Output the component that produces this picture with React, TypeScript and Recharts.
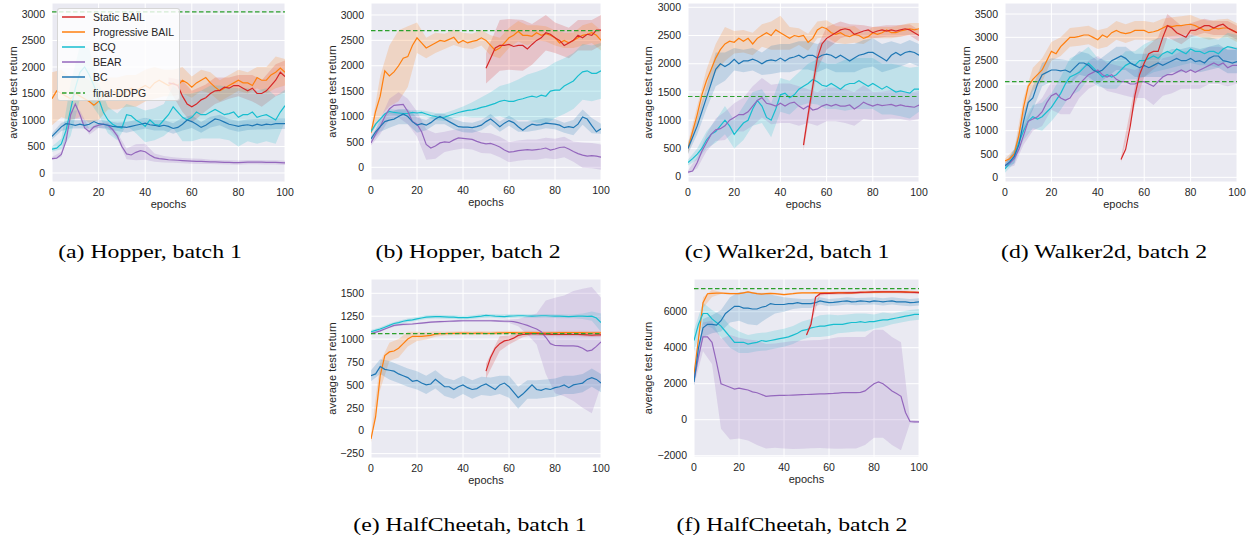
import React from "react";
import { ComposedChart, Area, Line, XAxis, YAxis, CartesianGrid, Legend, ReferenceLine } from "recharts";

// epochs 0..100, one reading every 2 epochs (Static BAIL starts at 50)
const EPOCHS = Array.from({ length: 51 }, (_, i) => i * 2);
const X_TICKS = [0, 20, 40, 60, 80, 100];
const TICKS_3000 = [0, 500, 1000, 1500, 2000, 2500, 3000];
const TICKS_3500 = [0, 500, 1000, 1500, 2000, 2500, 3000, 3500];
const TICKS_CHEETAH1 = [-250, 0, 250, 500, 750, 1000, 1250, 1500];
const TICKS_CHEETAH2 = [-2000, 0, 2000, 4000, 6000];

const DDPG_HOPPER1 = 3040;
const DDPG_HOPPER2 = 2690;
const DDPG_WALKER1 = 1420;
const DDPG_WALKER2 = 2050;
const DDPG_CHEETAH1 = 1060;
const DDPG_CHEETAH2 = 7280;

// band arrays = half width of the shaded region (every 4 epochs, Static BAIL every ~5)

// (a) Hopper, batch 1
const hopper1Static = [1700, 1680, 1650, 1450, 1300, 1250, 1300, 1380, 1420, 1500, 1550, 1560, 1620, 1600, 1650, 1650, 1600, 1550, 1600, 1500, 1500, 1550, 1650, 1750, 1900, 1820];
const hopper1StaticBand = [100, 300, 300, 250, 250, 200, 200, 250, 250, 300, 300];
const hopper1Prog = [1400, 1550, 1500, 1450, 1400, 1500, 1450, 1400, 1350, 1280, 1350, 1450, 1500, 1550, 1500, 1450, 1550, 1600, 1550, 1600, 1650, 1600, 1700, 1750, 1700, 1650, 1700, 1650, 1750, 1700, 1620, 1700, 1750, 1800, 1700, 1620, 1550, 1600, 1650, 1700, 1750, 1700, 1700, 1650, 1800, 1750, 1750, 1850, 1900, 1980, 1900];
const hopper1ProgBand = [500, 450, 400, 400, 400, 350, 300, 300, 300, 300, 300, 300, 250, 250, 250, 200, 200, 200, 200, 200, 200, 200, 200, 250, 300, 250];
const hopper1Bcq = [450, 470, 550, 800, 1200, 1600, 1900, 2000, 1850, 1650, 1400, 1150, 1000, 920, 870, 850, 1100, 1080, 1000, 950, 880, 1000, 920, 900, 1000, 1100, 1250, 1150, 1050, 1000, 1050, 1150, 1100, 1100, 1150, 1200, 1150, 1100, 1120, 1150, 1050, 1100, 1100, 1150, 1050, 1080, 1100, 1050, 1000, 1150, 1270];
const hopper1BcqBand = [50, 100, 500, 500, 500, 300, 250, 250, 200, 250, 300, 300, 300, 400, 450, 450, 450, 500, 500, 500, 550, 500, 500, 500, 450, 300];
const hopper1Bear = [270, 280, 350, 600, 1100, 1300, 1100, 850, 780, 870, 900, 920, 900, 820, 700, 500, 360, 340, 390, 420, 400, 340, 290, 270, 260, 250, 245, 240, 235, 230, 225, 220, 220, 215, 210, 210, 205, 200, 200, 195, 195, 200, 205, 205, 205, 205, 200, 200, 200, 195, 190];
const hopper1BearBand = [30, 50, 80, 80, 60, 50, 50, 60, 100, 150, 150, 80, 60, 50, 50, 50, 50, 40, 40, 40, 40, 40, 40, 40, 40, 40];
const hopper1Bc = [690, 780, 870, 930, 920, 900, 920, 900, 920, 970, 930, 920, 900, 880, 870, 870, 860, 880, 900, 920, 940, 910, 900, 880, 900, 880, 840, 860, 920, 1000, 970, 920, 860, 900, 960, 1020, 1000, 960, 920, 900, 880, 900, 910, 890, 920, 900, 920, 910, 930, 930, 930];
const hopper1BcBand = [60, 80, 80, 80, 80, 80, 80, 80, 100, 100, 100, 100, 100, 100, 120, 120, 100, 100, 100, 100, 100, 100, 100, 100, 100, 100];

// (b) Hopper, batch 2
const hopper2Static = [1950, 2150, 2350, 2400, 2400, 2420, 2380, 2400, 2400, 2330, 2420, 2500, 2550, 2650, 2620, 2550, 2500, 2400, 2450, 2500, 2600, 2550, 2620, 2600, 2700, 2700];
const hopper2StaticBand = [300, 500, 500, 500, 400, 350, 300, 300, 300, 300, 300];
const hopper2Prog = [680, 1100, 1400, 1900, 1800, 1880, 2000, 2150, 2180, 2400, 2550, 2450, 2350, 2400, 2450, 2500, 2480, 2520, 2560, 2450, 2500, 2450, 2480, 2500, 2550, 2500, 2400, 2300, 2350, 2450, 2550, 2600, 2680, 2600, 2600, 2580, 2650, 2600, 2630, 2600, 2550, 2450, 2500, 2450, 2500, 2550, 2600, 2620, 2650, 2600, 2500];
const hopper2ProgBand = [50, 400, 600, 700, 600, 300, 200, 200, 150, 150, 150, 150, 150, 200, 200, 200, 200, 200, 150, 150, 150, 150, 150, 200, 200, 200];
const hopper2Bcq = [700, 850, 950, 1050, 1100, 1080, 1070, 1060, 1060, 1080, 1070, 1080, 1050, 1020, 1000, 980, 990, 1020, 1050, 1080, 1100, 1120, 1130, 1150, 1180, 1200, 1230, 1260, 1300, 1320, 1300, 1300, 1330, 1350, 1380, 1400, 1380, 1420, 1400, 1500, 1520, 1520, 1600, 1650, 1700, 1800, 1880, 1900, 1850, 1850, 1900];
const hopper2BcqBand = [30, 50, 50, 60, 60, 60, 60, 70, 80, 80, 100, 150, 200, 250, 300, 350, 400, 450, 500, 550, 550, 550, 550, 550, 550, 550];
const hopper2Bear = [480, 650, 800, 1000, 1150, 1220, 1230, 1240, 1100, 900, 850, 700, 450, 380, 420, 480, 500, 490, 540, 580, 570, 560, 550, 510, 480, 460, 470, 440, 400, 340, 300, 310, 330, 340, 350, 340, 350, 360, 380, 340, 360, 390, 400, 360, 310, 270, 240, 220, 230, 220, 200];
const hopper2BearBand = [50, 150, 200, 250, 250, 250, 300, 250, 200, 200, 200, 200, 200, 200, 200, 200, 200, 200, 200, 200, 200, 200, 200, 250, 250, 250];
const hopper2Bc = [560, 700, 800, 900, 930, 950, 1000, 1050, 1000, 900, 830, 860, 830, 880, 950, 1000, 950, 900, 850, 800, 790, 790, 780, 800, 830, 900, 950, 880, 800, 870, 920, 880, 800, 730, 800, 850, 830, 840, 870, 860, 850, 830, 780, 800, 780, 850, 990, 950, 820, 700, 760];
const hopper2BcBand = [50, 100, 150, 150, 150, 150, 100, 100, 100, 100, 100, 100, 100, 100, 100, 100, 100, 100, 100, 100, 100, 100, 150, 150, 150, 100];

// (c) Walker2d, batch 1
const walker1Static = [560, 1100, 1600, 2100, 2350, 2450, 2500, 2550, 2600, 2620, 2600, 2520, 2550, 2580, 2600, 2550, 2580, 2600, 2580, 2600, 2580, 2600, 2620, 2600, 2550, 2500];
const walker1StaticBand = [100, 200, 200, 150, 100, 100, 100, 100, 100, 100, 100];
const walker1Prog = [500, 800, 1100, 1450, 1700, 1900, 2100, 2250, 2350, 2400, 2380, 2450, 2400, 2450, 2350, 2450, 2500, 2550, 2500, 2600, 2550, 2500, 2450, 2500, 2480, 2500, 2380, 2450, 2600, 2650, 2620, 2550, 2520, 2550, 2500, 2480, 2520, 2500, 2450, 2480, 2550, 2520, 2550, 2600, 2550, 2550, 2580, 2600, 2620, 2600, 2620];
const walker1ProgBand = [100, 150, 200, 250, 300, 200, 200, 200, 200, 250, 300, 200, 150, 150, 150, 150, 150, 150, 150, 100, 100, 100, 100, 100, 100, 100];
const walker1Bcq = [250, 320, 400, 500, 650, 750, 800, 900, 1000, 900, 750, 850, 950, 1000, 1200, 1350, 1250, 1050, 1000, 1200, 1450, 1480, 1400, 1450, 1550, 1600, 1650, 1720, 1680, 1620, 1600, 1650, 1600, 1550, 1620, 1650, 1650, 1700, 1650, 1600, 1650, 1600, 1550, 1600, 1550, 1500, 1520, 1500, 1480, 1550, 1550];
const walker1BcqBand = [50, 100, 150, 200, 250, 250, 300, 300, 300, 300, 300, 300, 300, 350, 400, 400, 400, 450, 450, 450, 450, 450, 450, 450, 450, 400];
const walker1Bear = [80, 100, 250, 450, 600, 750, 830, 850, 900, 1000, 1050, 1100, 1100, 1150, 1250, 1350, 1400, 1300, 1280, 1250, 1300, 1250, 1300, 1320, 1250, 1200, 1250, 1180, 1200, 1250, 1280, 1250, 1280, 1250, 1250, 1270, 1200, 1250, 1320, 1280, 1250, 1280, 1260, 1270, 1280, 1250, 1270, 1250, 1240, 1230, 1270];
const walker1BearBand = [30, 100, 150, 200, 250, 250, 300, 350, 350, 350, 350, 350, 350, 300, 300, 300, 300, 300, 300, 300, 250, 250, 250, 250, 250, 250];
const walker1Bc = [500, 700, 900, 1150, 1400, 1650, 1900, 2000, 1950, 2000, 2080, 2000, 2050, 2050, 2080, 2050, 2000, 2050, 2070, 2050, 2100, 2050, 2100, 2120, 2150, 2100, 2150, 2150, 2100, 2150, 2170, 2150, 2100, 2150, 2100, 2050, 2100, 2150, 2170, 2200, 2200, 2150, 2100, 2050, 2150, 2200, 2150, 2200, 2220, 2200, 2150];
const walker1BcBand = [100, 150, 200, 300, 250, 200, 200, 200, 200, 250, 250, 250, 250, 250, 250, 250, 250, 250, 250, 250, 250, 250, 250, 200, 200, 200];

// (d) Walker2d, batch 2
const walker2Static = [380, 600, 1100, 1750, 2200, 2450, 2650, 2700, 2700, 3000, 3250, 3200, 3100, 3050, 3000, 3150, 3150, 3200, 3250, 3250, 3200, 3250, 3280, 3200, 3150, 3100];
const walker2StaticBand = [50, 200, 300, 300, 250, 200, 150, 150, 150, 150, 150];
const walker2Prog = [350, 400, 500, 900, 1500, 1950, 2100, 2200, 2300, 2500, 2700, 2650, 2800, 2900, 3000, 3000, 3020, 3050, 3050, 3000, 2950, 3050, 3000, 3100, 3150, 3100, 3080, 3100, 3150, 3150, 3150, 3100, 3120, 3150, 3200, 3250, 3230, 3250, 3250, 3270, 3280, 3250, 3200, 3150, 3150, 3200, 3180, 3200, 3200, 3150, 3100];
const walker2ProgBand = [50, 100, 200, 250, 250, 200, 200, 200, 200, 200, 200, 200, 200, 200, 200, 200, 200, 200, 200, 200, 200, 200, 200, 200, 200, 200];
const walker2Bcq = [180, 300, 450, 750, 1000, 1200, 1300, 1250, 1300, 1400, 1500, 1650, 1800, 2000, 2150, 2200, 2250, 2350, 2450, 2350, 2250, 2150, 2200, 2150, 2200, 2300, 2400, 2450, 2400, 2500, 2500, 2550, 2600, 2550, 2650, 2700, 2650, 2750, 2700, 2650, 2750, 2700, 2700, 2650, 2700, 2700, 2650, 2750, 2800, 2780, 2750];
const walker2BcqBand = [80, 150, 200, 250, 300, 300, 350, 400, 400, 350, 300, 300, 300, 300, 300, 350, 350, 350, 300, 300, 300, 300, 300, 300, 300, 300];
const walker2Bear = [250, 300, 400, 600, 900, 1200, 1250, 1300, 1400, 1600, 1750, 1800, 1700, 1650, 1700, 1850, 2000, 2100, 2200, 2250, 2300, 2200, 2150, 2200, 2100, 2050, 2050, 2000, 2000, 2050, 2050, 2000, 1950, 2050, 2150, 2200, 2200, 2250, 2300, 2250, 2300, 2250, 2300, 2350, 2400, 2450, 2400, 2450, 2350, 2400, 2400];
const walker2BearBand = [50, 150, 200, 250, 300, 300, 350, 350, 300, 300, 300, 300, 300, 300, 300, 350, 400, 400, 400, 400, 400, 400, 400, 400, 400, 400];
const walker2Bc = [250, 330, 450, 700, 1200, 1600, 1700, 2000, 2200, 2250, 2300, 2300, 2280, 2300, 2250, 2350, 2450, 2450, 2400, 2300, 2250, 2300, 2400, 2500, 2550, 2600, 2550, 2450, 2400, 2350, 2400, 2350, 2400, 2450, 2400, 2450, 2500, 2550, 2500, 2500, 2550, 2480, 2500, 2450, 2550, 2600, 2600, 2500, 2480, 2450, 2480];
const walker2BcBand = [50, 150, 200, 250, 250, 250, 250, 250, 250, 250, 250, 250, 250, 250, 250, 250, 250, 250, 250, 250, 250, 250, 250, 250, 250, 250];

// (e) HalfCheetah, batch 1
const cheetah1Static = [650, 800, 900, 950, 980, 990, 1010, 1040, 1050, 1055, 1060, 1060, 1058, 1055, 1052, 1050, 1050, 1050, 1052, 1050, 1050, 1048, 1045, 1042, 1045, 1045];
const cheetah1StaticBand = [80, 80, 50, 30, 20, 20, 20, 20, 20, 20, 20];
const cheetah1Prog = [-90, 150, 600, 820, 860, 870, 900, 950, 1000, 1030, 1030, 1030, 1035, 1040, 1055, 1060, 1060, 1062, 1062, 1065, 1065, 1065, 1063, 1065, 1065, 1062, 1062, 1065, 1068, 1068, 1070, 1070, 1068, 1068, 1070, 1070, 1070, 1068, 1066, 1068, 1068, 1070, 1070, 1072, 1072, 1070, 1070, 1068, 1068, 1068, 1068];
const cheetah1ProgBand = [40, 150, 100, 100, 80, 50, 40, 30, 20, 20, 20, 20, 20, 20, 20, 20, 20, 20, 20, 20, 20, 20, 20, 20, 20, 20];
const cheetah1Bcq = [1080, 1095, 1110, 1130, 1150, 1170, 1180, 1195, 1205, 1210, 1220, 1230, 1240, 1242, 1245, 1245, 1242, 1240, 1240, 1235, 1235, 1235, 1240, 1245, 1250, 1258, 1255, 1250, 1248, 1245, 1250, 1252, 1255, 1255, 1252, 1250, 1252, 1255, 1255, 1252, 1250, 1250, 1248, 1245, 1248, 1250, 1250, 1248, 1250, 1230, 1180];
const cheetah1BcqBand = [20, 20, 20, 20, 20, 20, 20, 20, 20, 20, 20, 20, 20, 20, 20, 20, 20, 20, 20, 20, 20, 20, 20, 30, 50, 100];
const cheetah1Bear = [1060, 1075, 1090, 1110, 1130, 1150, 1155, 1160, 1162, 1165, 1170, 1175, 1180, 1185, 1188, 1190, 1192, 1195, 1197, 1198, 1200, 1200, 1200, 1200, 1200, 1200, 1200, 1198, 1196, 1195, 1195, 1190, 1180, 1165, 1150, 1130, 1110, 1080, 1020, 950, 930, 928, 925, 925, 925, 920, 900, 870, 880, 920, 970];
const cheetah1BearBand = [10, 10, 10, 10, 10, 10, 10, 10, 10, 10, 10, 10, 10, 10, 10, 20, 40, 100, 170, 400, 520, 550, 600, 650, 690, 480];
const cheetah1Bc = [600, 620, 700, 670, 660, 650, 620, 600, 580, 540, 550, 520, 500, 510, 560, 520, 480, 480, 450, 480, 500, 470, 450, 460, 490, 510, 480, 450, 500, 520, 480, 420, 360, 400, 450, 500, 450, 440, 460, 450, 470, 480, 500, 470, 500, 510, 520, 560, 580, 560, 520];
const cheetah1BcBand = [60, 80, 100, 100, 100, 100, 100, 100, 100, 100, 100, 100, 100, 100, 100, 120, 120, 100, 100, 100, 100, 100, 100, 100, 100, 100];

// (f) HalfCheetah, batch 2
const cheetah2Static = [4700, 5300, 6800, 7000, 7020, 7020, 7030, 7040, 7040, 7050, 7050, 7060, 7070, 7080, 7090, 7100, 7100, 7100, 7100, 7100, 7100, 7100, 7090, 7080, 7070, 7060];
const cheetah2StaticBand = [100, 100, 80, 80, 80, 80, 80, 80, 80, 80, 80];
const cheetah2Prog = [2500, 4500, 6500, 7000, 7020, 7030, 7040, 7020, 7000, 7000, 7000, 7050, 7100, 7050, 7000, 6980, 7000, 7020, 7000, 6980, 6950, 6980, 7000, 7030, 7050, 7050, 7050, 7060, 7050, 7050, 7050, 7050, 7060, 7060, 7050, 7050, 7060, 7070, 7070, 7080, 7080, 7090, 7100, 7100, 7100, 7100, 7100, 7100, 7090, 7080, 7080];
const cheetah2ProgBand = [100, 300, 200, 60, 50, 50, 50, 50, 50, 50, 50, 50, 50, 50, 50, 50, 50, 50, 50, 50, 50, 50, 50, 50, 50, 50];
const cheetah2Bcq = [4400, 5300, 5900, 5900, 5600, 5400, 5200, 4900, 4600, 4300, 4300, 4300, 4200, 4250, 4300, 4400, 4350, 4400, 4450, 4500, 4550, 4600, 4700, 4800, 4950, 5000, 5100, 5150, 5200, 5200, 5250, 5300, 5300, 5300, 5350, 5400, 5400, 5450, 5400, 5450, 5450, 5500, 5550, 5550, 5600, 5650, 5700, 5750, 5800, 5850, 5850];
const cheetah2BcqBand = [600, 600, 500, 600, 600, 600, 500, 500, 500, 500, 500, 500, 500, 500, 600, 600, 500, 500, 500, 500, 400, 400, 300, 300, 300, 300];
const cheetah2Bear = [2200, 3500, 4600, 4600, 4300, 3200, 2000, 1900, 1800, 1700, 1750, 1700, 1650, 1550, 1500, 1400, 1300, 1320, 1340, 1350, 1350, 1360, 1370, 1380, 1390, 1400, 1410, 1420, 1430, 1440, 1450, 1460, 1480, 1500, 1500, 1500, 1500, 1520, 1600, 1800, 2000, 2100, 2000, 1800, 1600, 1450, 1300, 400, -100, -120, -120];
const cheetah2BearBand = [300, 800, 1200, 2500, 2900, 2800, 2800, 2900, 2900, 2900, 2950, 3000, 3000, 3000, 3000, 3050, 3100, 3100, 3100, 3000, 3000, 3000, 3000, 3000, 100, 60];
const cheetah2Bc = [2100, 4000, 5100, 5300, 5300, 5250, 5500, 5900, 6100, 6300, 6300, 6200, 6200, 6150, 6150, 6250, 6300, 6450, 6400, 6400, 6400, 6450, 6450, 6500, 6450, 6450, 6450, 6500, 6600, 6550, 6500, 6520, 6550, 6580, 6600, 6550, 6560, 6600, 6580, 6550, 6600, 6580, 6550, 6580, 6600, 6550, 6550, 6550, 6500, 6520, 6550];
const cheetah2BcBand = [200, 500, 500, 600, 700, 800, 900, 900, 700, 500, 400, 300, 250, 250, 200, 200, 200, 200, 200, 200, 200, 200, 200, 200, 200, 200];

const SERIES = [
  { key: "sb", name: "Static BAIL", color: "#d62728" },
  { key: "pb", name: "Progressive BAIL", color: "#ff7f0e" },
  { key: "bcq", name: "BCQ", color: "#17becf" },
  { key: "bear", name: "BEAR", color: "#9467bd" },
  { key: "bc", name: "BC", color: "#1f77b4" },
];
// Static BAIL line is drawn last so it sits on top where it climbs through the others
const LINE_ORDER = ["pb", "bcq", "bear", "bc", "sb"];
const DDPG_COLOR = "#2ca02c";
const TEXT = "#262626";
const AXIS_W = 56;
const PAD_TOP = 8;

const PANELS = [
  {
    id: "a", caption: "(a) Hopper, batch 1", left: 52, top: 3, w: 233, h: 179,
    yDomain: [-170, 3207], yTicks: TICKS_3000, ddpg: DDPG_HOPPER1, labelOffset: 17, legend: true, capX: 150, capY: 258,
    data: { sb: [hopper1Static, hopper1StaticBand], pb: [hopper1Prog, hopper1ProgBand], bcq: [hopper1Bcq, hopper1BcqBand], bear: [hopper1Bear, hopper1BearBand], bc: [hopper1Bc, hopper1BcBand] },
  },
  {
    id: "b", caption: "(b) Hopper, batch 2", left: 371, top: 3, w: 230, h: 177,
    yDomain: [-250, 3236], yTicks: TICKS_3000, ddpg: DDPG_HOPPER2, labelOffset: 17, legend: false, capX: 468, capY: 258,
    data: { sb: [hopper2Static, hopper2StaticBand], pb: [hopper2Prog, hopper2ProgBand], bcq: [hopper2Bcq, hopper2BcqBand], bear: [hopper2Bear, hopper2BearBand], bc: [hopper2Bc, hopper2BcBand] },
  },
  {
    id: "c", caption: "(c) Walker2d, batch 1", left: 688, top: 3, w: 231, h: 179,
    yDomain: [-94, 3076], yTicks: TICKS_3000, ddpg: DDPG_WALKER1, labelOffset: 16, legend: false, capX: 787, capY: 258,
    data: { sb: [walker1Static, walker1StaticBand], pb: [walker1Prog, walker1ProgBand], bcq: [walker1Bcq, walker1BcqBand], bear: [walker1Bear, walker1BearBand], bc: [walker1Bc, walker1BcBand] },
  },
  {
    id: "d", caption: "(d) Walker2d, batch 2", left: 1005, top: 3, w: 232, h: 179,
    yDomain: [-100, 3736], yTicks: TICKS_3500, ddpg: DDPG_WALKER2, labelOffset: 17, legend: false, capX: 1104, capY: 258,
    data: { sb: [walker2Static, walker2StaticBand], pb: [walker2Prog, walker2ProgBand], bcq: [walker2Bcq, walker2BcqBand], bear: [walker2Bear, walker2BearBand], bc: [walker2Bc, walker2BcBand] },
  },
  {
    id: "e", caption: "(e) HalfCheetah, batch 1", left: 371, top: 279, w: 230, h: 179,
    yDomain: [-298, 1656], yTicks: TICKS_CHEETAH1, ddpg: DDPG_CHEETAH1, labelOffset: 17, legend: false, capX: 470, capY: 531,
    data: { sb: [cheetah1Static, cheetah1StaticBand], pb: [cheetah1Prog, cheetah1ProgBand], bcq: [cheetah1Bcq, cheetah1BcqBand], bear: [cheetah1Bear, cheetah1BearBand], bc: [cheetah1Bc, cheetah1BcBand] },
  },
  {
    id: "f", caption: "(f) HalfCheetah, batch 2", left: 694, top: 279, w: 225, h: 178,
    yDomain: [-2072, 7817], yTicks: TICKS_CHEETAH2, ddpg: DDPG_CHEETAH2, labelOffset: 10, legend: false, capX: 792, capY: 531,
    data: { sb: [cheetah2Static, cheetah2StaticBand], pb: [cheetah2Prog, cheetah2ProgBand], bcq: [cheetah2Bcq, cheetah2BcqBand], bear: [cheetah2Bear, cheetah2BearBand], bc: [cheetah2Bc, cheetah2BcBand] },
  },
];

// which reading of the mean each band value belongs to
function bandLookup(n: number, m: number) {
  const map = new Map<number, number>();
  for (let j = 0; j < m; j++) map.set(Math.round((j * (n - 1)) / (m - 1)), j);
  return map;
}

function buildRows(data: Record<string, number[][]>) {
  return EPOCHS.map((x) => {
    const row: Record<string, any> = { x };
    SERIES.forEach((s) => {
      const [mean, band] = data[s.key];
      const start = 100 - (mean.length - 1) * 2;
      const k = (x - start) / 2;
      if (k < 0) return;
      row[s.key] = mean[k];
      const j = bandLookup(mean.length, band.length).get(k);
      if (j !== undefined) row[s.key + "Band"] = [mean[k] - band[j], mean[k] + band[j]];
    });
    return row;
  });
}

const fmtTick = (v: number) => String(v).replace("-", "\u2212");

const LegendBox = () => (
  <div
    style={{
      width: 123, height: 93, boxSizing: "border-box", background: "rgba(255,255,255,0.8)",
      border: "1px solid rgba(204,204,204,0.8)", borderRadius: 3,
    }}
  >
    {[...SERIES.map((s) => ({ name: s.name, color: s.color, dash: undefined as string | undefined })), { name: "final-DDPG", color: DDPG_COLOR, dash: "4.5 2.5" }].map((s) => (
      <div key={s.name} style={{ display: "flex", alignItems: "center", height: 15.2 }}>
        <svg width={35} height={6} style={{ flex: "none" }}>
          <line x1={4} y1={3} x2={27} y2={3} stroke={s.color} strokeWidth={1.5} strokeDasharray={s.dash} />
        </svg>
        <span style={{ fontSize: 10.5, color: TEXT, lineHeight: "12px", whiteSpace: "nowrap" }}>{s.name}</span>
      </div>
    ))}
  </div>
);

function Panel({ p }: { p: any }) {
  const rows = buildRows(p.data);
  const chartW = AXIS_W + p.w + 14;
  const chartH = PAD_TOP + p.h + 36;
  const colorOf = (k: string) => SERIES.find((s) => s.key === k)!;
  return (
    <div style={{ position: "absolute", left: p.left - AXIS_W, top: p.top - PAD_TOP }}>
      <ComposedChart width={chartW} height={chartH} data={rows} margin={{ top: PAD_TOP, right: 14, bottom: 0, left: 0 }}>
        <CartesianGrid fill="#EAEAF2" fillOpacity={1} stroke="#ffffff" strokeWidth={1} />
        <XAxis
          dataKey="x" type="number" domain={[0, 100]} ticks={X_TICKS} interval={0} allowDataOverflow
          axisLine={false} tickLine={false} tickMargin={1} height={36}
          tick={{ fontSize: 10.5, fill: TEXT }}
          label={{ value: "epochs", position: "insideBottom", offset: 10, fontSize: 11, fill: TEXT }}
        />
        <YAxis
          type="number" domain={p.yDomain} ticks={p.yTicks} interval={0} allowDataOverflow width={AXIS_W}
          axisLine={false} tickLine={false} tickMargin={1}
          tick={{ fontSize: 10.5, fill: TEXT }} tickFormatter={fmtTick}
          label={{ value: "average test return", angle: -90, position: "insideLeft", offset: p.labelOffset, fontSize: 11, fill: TEXT, style: { textAnchor: "middle" } }}
        />
        {SERIES.map((s) => (
          <Area
            key={s.key + "Band"} dataKey={s.key + "Band"} type="linear" stroke="none"
            fill={s.color} fillOpacity={0.2} connectNulls isAnimationActive={false} activeDot={false}
          />
        ))}
        {LINE_ORDER.map((k) => (
          <Line
            key={k} dataKey={k} name={colorOf(k).name} type="linear" stroke={colorOf(k).color} strokeWidth={1.2}
            dot={false} activeDot={false} isAnimationActive={false}
          />
        ))}
        <ReferenceLine y={p.ddpg} stroke={DDPG_COLOR} strokeWidth={1.2} strokeDasharray="4.5 2.5" />
        {p.legend && (
          <Legend
            layout="vertical" align="center" verticalAlign="middle"
            wrapperStyle={{ left: 57 - (p.left - AXIS_W), top: 8 - (p.top - PAD_TOP), width: 123, height: 93 }}
            content={() => <LegendBox />}
          />
        )}
      </ComposedChart>
    </div>
  );
}

export default function App() {
  return (
    <div
      style={{
        position: "absolute", left: 0, top: 0, width: 1251, height: 542, background: "#ffffff", overflow: "hidden",
        fontFamily: '"Liberation Sans", Arial, sans-serif',
      }}
    >
      {PANELS.map((p) => (
        <Panel key={p.id} p={p} />
      ))}
      {PANELS.map((p) => (
        <div
          key={p.id + "cap"}
          style={{
            position: "absolute", left: p.capX - 150, top: p.capY - 18.4, width: 300, textAlign: "center",
            fontFamily: '"Liberation Serif", "Times New Roman", serif', fontSize: 19, lineHeight: "24px",
            color: "#000", whiteSpace: "nowrap", transform: "scaleX(1.25)",
          }}
        >
          {p.caption}
        </div>
      ))}
    </div>
  );
}
